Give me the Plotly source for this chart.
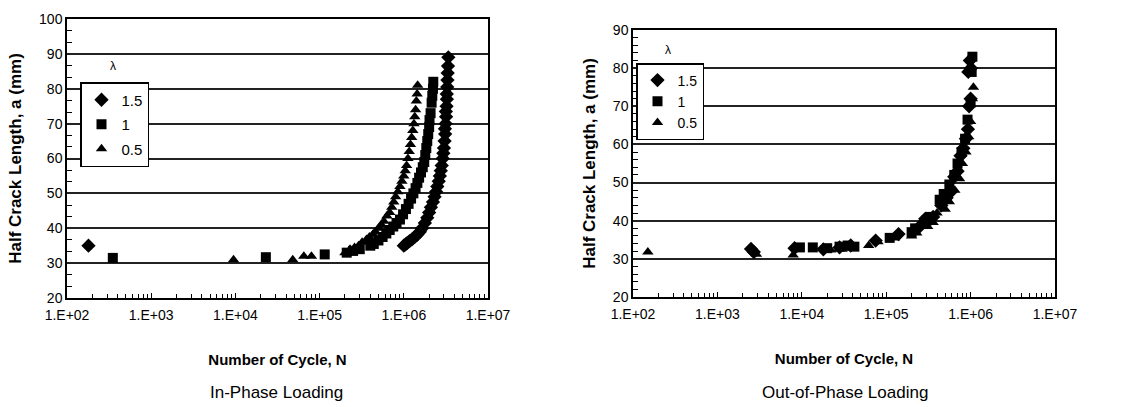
import plotly.graph_objects as go

# ---- In-phase loading: crack growth for three biaxiality ratios ----
ip_n_15 = [180, 1.0e6, 1.05e6, 1.1e6, 1.17e6, 1.25e6, 1.35e6, 1.45e6, 1.55e6, 1.65e6,
           1.78e6, 1.9e6, 2.0e6, 2.1e6, 2.22e6, 2.32e6, 2.42e6, 2.5e6, 2.6e6, 2.68e6,
           2.75e6, 2.82e6, 2.9e6, 2.95e6, 3.0e6, 3.05e6, 3.1e6, 3.08e6, 3.14e6, 3.18e6,
           3.16e6, 3.22e6, 3.25e6, 3.24e6, 3.28e6, 3.3e6, 3.32e6, 3.35e6, 3.38e6]
ip_a_15 = [35, 35, 35.4, 35.8, 36.3, 36.8, 37.5, 38.2, 39, 40,
           41.5, 43, 44.5, 46, 47.5, 49, 50.5, 52, 53.5, 55,
           56.5, 58, 60, 61.5, 63, 65, 67, 68.5, 70, 72,
           73.5, 75, 77, 78.5, 80.5, 82.5, 84.5, 86.5, 89]

ip_n_10 = [350, 23000, 115000, 210000, 250000, 300000, 4.0e5, 4.4e5, 5.0e5, 5.6e5,
           6.2e5, 6.8e5, 7.5e5, 8.2e5, 9.0e5, 9.8e5, 1.06e6, 1.14e6, 1.22e6, 1.3e6,
           1.38e6, 1.45e6, 1.52e6, 1.6e6, 1.68e6, 1.75e6, 1.8e6, 1.85e6, 1.9e6, 1.95e6,
           2.0e6, 2.02e6, 2.08e6, 2.14e6, 2.18e6, 2.22e6, 2.24e6]
ip_a_10 = [31.5, 31.7, 32.5, 33, 33.5, 34, 35, 35.5, 36.5, 37.5,
           38.5, 39.5, 40.5, 41.5, 42.5, 44, 45.5, 47, 48.5, 50,
           51.5, 53, 54.5, 56, 57.5, 59, 61, 63, 65, 67,
           69, 71, 73, 76, 78, 80, 82]

ip_n_05 = [9500, 48000, 65000, 80000, 200000, 230000, 260000, 290000, 3.2e5, 3.6e5,
           3.9e5, 4.3e5, 4.6e5, 5.0e5, 5.4e5, 5.8e5, 6.3e5, 6.8e5, 7.2e5, 7.6e5,
           8.0e5, 8.5e5, 9.0e5, 9.5e5, 1.0e6, 1.04e6, 1.08e6, 1.12e6, 1.16e6, 1.2e6,
           1.24e6, 1.28e6, 1.32e6, 1.35e6, 1.38e6, 1.41e6, 1.44e6, 1.46e6]
ip_a_05 = [31, 31, 32, 32, 33, 34, 34.5, 35, 36, 36.8,
           37.5, 38.3, 39, 40, 41, 42, 43.5, 44.5, 46, 47.5,
           49, 50.5, 52, 53.5, 55, 56.5, 58, 60, 62, 64,
           66, 68, 70, 72, 74, 76.5, 78.5, 81]

# ---- Out-of-phase loading ----
op_n_15 = [2500, 2700, 8200, 18000, 28000, 38000, 75000, 140000, 250000, 290000,
           360000, 450000, 520000, 580000, 640000, 700000, 760000, 820000, 880000, 930000,
           960000, 1000000, 940000, 980000, 1010000]
op_a_15 = [32.6, 31.8, 32.8, 32.5, 33, 33.5, 34.8, 36.5, 38.5, 40.5,
           41, 44, 46, 47.5, 51.5, 53, 57, 59, 61.5, 64,
           70, 72, 79, 82, 80]

op_n_10 = [9500, 13500, 20000, 28000, 35000, 42000, 110000, 200000, 220000, 300000,
           330000, 430000, 480000, 560000, 640000, 700000, 780000, 860000, 920000, 1000000,
           1050000, 1030000]
op_a_10 = [33, 33, 32.8, 33.2, 33.5, 33.2, 35.5, 37, 38, 40,
           41, 45.5, 47, 49.5, 52, 55, 58, 61.5, 66.5, 71,
           83, 79]

op_n_05 = [150, 2900, 7900, 22000, 30000, 40000, 62000, 80000, 125000, 200000,
           230000, 310000, 360000, 400000, 500000, 560000, 650000, 740000, 800000, 880000,
           950000, 1000000, 1050000, 1080000]
op_a_05 = [31.8, 31.2, 31, 32.3, 32.5, 32.8, 33.5, 34.5, 35.5, 36,
           36.8, 38.5, 39.5, 42, 43, 45, 48, 51, 55, 58,
           62, 66, 72, 75]

lambda_labels = ["1.5", "1", "0.5"]
cycle_ticks = [1e2, 1e3, 1e4, 1e5, 1e6, 1e7]
cycle_tick_text = ["1.E+02", "1.E+03", "1.E+04", "1.E+05", "1.E+06", "1.E+07"]
panel_titles = ["In-Phase Loading", "Out-of-Phase Loading"]

W, H = 1121, 407
FONT = "Liberation Sans Narrow, Arial Narrow, Liberation Sans, Arial, sans-serif"
BOLD = "Liberation Sans, Arial, sans-serif"

symbols = ["diamond", "square", "triangle-up"]
sizes = [11, 10, 10]

fig = go.Figure()

panels = [
    ("x", "y", "legend", [(ip_n_15, ip_a_15), (ip_n_10, ip_a_10), (ip_n_05, ip_a_05)]),
    ("x2", "y2", "legend2", [(op_n_15, op_a_15), (op_n_10, op_a_10), (op_n_05, op_a_05)]),
]
for xa, ya, leg, series in panels:
    for i, (n, a) in enumerate(series):
        fig.add_trace(go.Scatter(
            x=n, y=a, mode="markers", name=lambda_labels[i],
            xaxis=xa, yaxis=ya, legend=leg, legendgroup=f"{leg}{i}",
            marker=dict(symbol=symbols[i], size=sizes[i], color="black",
                        line=dict(width=0)),
        ))


def px_x(v):
    return v / W


def px_y(v):
    return 1 - v / H


# panel boxes in pixels: (left, right, top, bottom)
left_box = (67, 488, 19, 298)
right_box = (633, 1055, 30, 297)

common_x = dict(
    type="log", range=[2, 7], tickvals=cycle_ticks, ticktext=cycle_tick_text,
    ticks="inside", ticklen=5, tickwidth=1, tickcolor="black",
    minor=dict(ticks="inside", ticklen=4, tickwidth=1, tickcolor="black", dtick="D1",
               showgrid=False),
    showline=True, linecolor="black", linewidth=1.5, mirror=True,
    showgrid=False, zeroline=False,
    tickfont=dict(family=FONT, size=14, color="black"),
    ticklabelstandoff=3,
    title=dict(text="<b>Number of Cycle, N</b>",
               font=dict(family=BOLD, size=15, color="black"), standoff=33),
    automargin=False,
)
common_y = dict(
    dtick=10, ticks="", showline=True, linecolor="black", linewidth=1.5, mirror=True,
    showgrid=True, gridcolor="#222", gridwidth=1.5, zeroline=False,
    tickfont=dict(family=FONT, size=14, color="black"),
    title=dict(text="<b>Half Crack Length, a (mm)</b>",
               font=dict(family=BOLD, size=17, color="black"), standoff=13),
    automargin=False,
)

fig.update_layout(
    width=W, height=H,
    margin=dict(l=0, r=0, t=0, b=0),
    paper_bgcolor="white", plot_bgcolor="white",
    xaxis=dict(common_x, domain=[px_x(left_box[0]), px_x(left_box[1])], anchor="y"),
    yaxis=dict(common_y, domain=[px_y(left_box[3]), px_y(left_box[2])], anchor="x",
               range=[20, 100],
               minor=dict(ticks="inside", ticklen=5, tickcolor="black", dtick=10 / 3,
                          showgrid=False)),
    xaxis2=dict(common_x, domain=[px_x(right_box[0]), px_x(right_box[1])], anchor="y2"),
    yaxis2=dict(common_y, domain=[px_y(right_box[3]), px_y(right_box[2])], anchor="x2",
                range=[20, 90],
                minor=dict(ticks="inside", ticklen=5, tickcolor="black", dtick=2,
                           showgrid=False)),
    legend=dict(x=px_x(80), y=px_y(82), xanchor="left", yanchor="top",
                bordercolor="black", borderwidth=1.5, bgcolor="white",
                font=dict(family=FONT, size=15, color="black"),
                itemwidth=30, tracegroupgap=2),
    legend2=dict(x=px_x(636), y=px_y(63), xanchor="left", yanchor="top",
                 bordercolor="black", borderwidth=1.5, bgcolor="white",
                 font=dict(family=FONT, size=14, color="black"),
                 itemwidth=30, tracegroupgap=0),
    showlegend=True,
)

# legend heading and panel captions
for xc, yc in [(113, 66), (668, 50)]:
    fig.add_annotation(x=px_x(xc), y=px_y(yc), xref="paper", yref="paper",
                       xanchor="center", yanchor="middle",
                       text="λ", showarrow=False,
                       font=dict(family="Liberation Sans, Arial", size=12, color="black"))
for title, xc in zip(panel_titles, [276, 845]):
    fig.add_annotation(x=px_x(xc), y=px_y(392), xref="paper", yref="paper",
                       text=title, showarrow=False, xanchor="center", yanchor="middle",
                       font=dict(family=FONT, size=17, color="black"))

fig.write_html("out.html")
